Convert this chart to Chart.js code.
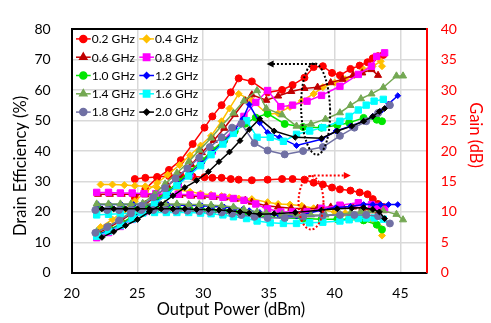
<!DOCTYPE html>
<html><head><meta charset="utf-8">
<script src="https://cdn.jsdelivr.net/npm/chart.js@4/dist/chart.umd.min.js"></script>
<style>html,body{margin:0;padding:0;background:#fff;}#wrap{width:491px;height:323px;position:relative;}</style>
</head><body><div id="wrap"><canvas id="c" width="491" height="323"></canvas></div>
<script>
// ---- data (Output power dBm, drain efficiency %, gain dB) ----
const freqLabels = ['0.2 GHz','0.4 GHz','0.6 GHz','0.8 GHz','1.0 GHz','1.2 GHz','1.4 GHz','1.6 GHz','1.8 GHz','2.0 GHz'];

const pwr02 = [24.8,25.6,26.5,27.4,28.3,29.2,30.1,30.7,31.4,32.1,32.7,33.7,34.9,36.0,36.8,37.7,38.4,39.1,39.8,40.4,41.2,41.9,42.5,42.9,43.3,43.7];
const eff02 = [24.7,27.5,31.2,33.8,37.0,42.3,47.7,51.4,55.1,59.3,63.9,62.9,59.3,60.1,61.7,64.1,67.6,67.9,65.7,64.9,67.0,68.1,69.2,70.5,71.2,71.6];
const gain02 = [15.4,15.6,15.75,15.9,15.9,15.8,15.7,15.6,15.6,15.4,15.3,15.2,15.3,15.4,15.4,15.3,14.8,14.5,14.0,13.7,13.5,13.2,12.9,12.1,11.3,10.8];

const pwr04 = [22.2,23.1,24.0,24.8,25.6,26.5,27.3,28.2,29.0,29.8,30.6,31.4,32.0,32.7,33.7,34.9,35.7,36.6,37.5,38.4,39.1,40.0,40.8,41.5,42.2,42.9,43.5,43.6];
const eff04 = [15.0,17.5,20.5,23.5,26.5,29.5,32.2,35.4,38.6,41.8,45.0,49.8,54.0,58.8,56.7,52.1,52.4,54.5,56.5,58.8,61.0,62.5,63.6,64.9,66.8,67.9,69.5,67.9];
const gain04 = [14.5,14.5,14.4,14.3,14.2,14.0,13.8,13.6,13.3,13.0,12.8,12.6,12.4,12.2,12.1,11.6,11.3,11.2,11.0,10.6,10.3,10.0,9.8,9.5,9.2,8.6,7.3,6.1];

const pwr06 = [22.0,22.9,23.8,24.7,25.6,26.5,27.3,28.2,29.1,29.9,30.8,31.6,32.4,33.2,33.7,34.8,35.7,36.7,37.7,38.7,39.7,40.6,41.4,42.1,42.8,43.3];
const eff06 = [13.0,15.0,17.3,19.8,22.5,25.5,28.5,32.0,35.5,39.5,43.5,47.5,52.0,56.5,58.5,56.7,58.1,59.6,60.6,61.0,62.5,63.6,64.9,65.7,66.8,64.9];
const gain06 = [12.9,12.9,12.9,12.9,12.8,12.8,12.8,12.7,12.6,12.5,12.4,12.3,12.1,11.9,11.6,11.0,10.8,10.6,10.5,10.6,10.8,10.9,10.8,10.6,10.2,9.6];

const pwr08 = [21.9,22.8,23.7,24.6,25.5,26.4,27.2,28.1,29.0,29.8,30.7,31.5,32.3,33.1,34.0,34.9,35.9,36.8,37.9,39.0,40.4,41.8,42.8,43.2,43.8];
const eff08 = [11.5,13.2,15.2,17.5,20.0,22.8,25.8,29.0,32.5,36.0,40.0,43.5,47.0,51.4,56.0,59.9,54.6,55.1,56.4,58.3,61.3,65.2,67.9,71.1,72.3];
const gain08 = [13.2,13.2,13.1,13.1,13.0,13.0,12.9,12.9,12.8,12.7,12.6,12.4,12.2,11.9,11.3,10.5,10.0,10.0,10.0,10.6,11.1,11.5,11.2,10.9,10.4];

const pwr10 = [22.0,22.9,23.8,24.6,25.5,26.4,27.3,28.1,29.0,29.9,30.7,31.6,32.4,33.2,34.0,34.9,36.2,37.6,39.0,40.2,41.1,42.2,43.2,43.6];
const eff10 = [12.5,14.2,16.2,18.5,21.0,23.8,26.8,30.0,33.3,36.8,40.3,43.5,46.5,49.0,51.0,52.3,48.9,47.9,47.7,48.5,49.3,50.9,50.3,49.8];
const gain10 = [10.6,10.6,10.6,10.6,10.6,10.5,10.5,10.4,10.3,10.2,10.1,10.0,9.8,9.6,9.4,9.2,9.0,8.9,8.8,8.8,8.8,8.6,7.9,7.1];

const pwr12 = [22.0,22.9,23.8,24.7,25.5,26.4,27.3,28.1,29.0,29.9,30.7,31.6,32.4,33.0,33.5,34.3,34.9,35.8,37.1,39.0,40.1,41.2,42.2,42.9,43.5,44.1,44.8];
const eff12 = [12.5,14.0,15.8,18.0,20.5,23.2,26.0,29.2,32.5,36.0,39.5,43.0,47.0,50.5,55.3,49.3,46.1,44.5,41.8,43.9,46.6,48.2,49.8,51.4,53.0,55.5,58.2];
const gain12 = [11.2,11.2,11.2,11.2,11.2,11.2,11.2,11.1,11.1,11.0,10.9,10.8,10.6,10.4,10.2,9.9,9.6,9.4,9.3,10.3,10.7,10.9,11.2,11.2,11.2,11.2,11.2];

const pwr14 = [21.9,22.8,23.7,24.5,25.4,26.3,27.1,28.0,28.9,29.7,30.6,31.4,32.3,33.1,34.1,34.8,36.0,37.1,38.2,39.3,40.4,41.2,42.0,42.8,43.7,44.7,45.2];
const eff14 = [13.5,15.3,17.5,20.0,22.8,25.8,29.2,32.8,36.5,40.3,44.3,48.3,52.5,56.5,59.9,54.0,51.9,48.2,48.9,50.5,52.6,55.0,57.2,58.8,60.9,64.7,64.7];
const gain14 = [11.3,11.3,11.3,11.3,11.3,11.3,11.3,11.3,11.2,11.2,11.1,11.0,10.8,10.4,10.0,9.8,9.6,9.5,9.5,9.5,9.6,9.8,10.0,10.2,10.2,9.6,8.7];

const pwr16 = [21.9,22.8,23.7,24.6,25.4,26.3,27.2,28.0,28.9,29.8,30.6,31.5,32.3,33.3,34.1,35.1,36.1,37.1,38.1,39.1,40.4,41.1,41.8,42.4,43.0,43.7];
const eff16 = [12.0,13.6,15.5,17.6,20.0,22.6,25.5,28.6,31.8,35.2,38.8,42.3,45.8,50.0,44.5,44.5,43.2,45.5,46.6,47.7,49.8,51.4,53.5,55.1,56.4,57.0];
const gain16 = [9.5,9.6,9.7,9.8,9.8,9.9,9.9,9.9,9.9,9.8,9.7,9.5,9.2,8.9,8.5,8.2,8.1,8.1,8.2,8.3,8.5,8.7,8.9,9.0,9.0,8.8];

const pwr18 = [21.8,22.7,23.6,24.5,25.3,26.2,27.1,27.9,28.8,29.7,30.5,31.4,32.2,32.9,33.9,34.9,36.2,37.6,39.1,40.4,41.5,42.4,43.3,44.2];
const eff18 = [13.1,15.0,17.2,19.5,22.0,24.8,27.8,31.0,34.3,37.8,41.3,44.5,47.7,49.0,42.6,40.2,38.9,40.0,41.3,45.0,47.7,49.8,52.5,55.1];
const gain18 = [10.3,10.3,10.3,10.3,10.3,10.3,10.3,10.2,10.2,10.1,10.0,9.9,9.7,9.5,9.2,9.0,9.0,9.2,9.4,9.5,9.5,9.5,9.3,8.1];

const pwr20 = [22.3,23.2,24.1,25.0,25.9,26.8,27.7,28.6,29.5,30.4,31.2,32.0,32.8,33.5,34.3,35.4,37.0,39.0,40.2,41.3,42.2,42.9,43.4,43.8];
const eff20 = [11.6,13.5,15.5,17.5,20.0,22.5,25.3,28.0,30.3,33.2,36.5,39.7,43.4,47.1,50.6,46.6,44.5,44.2,46.6,48.2,49.8,51.4,53.0,54.0];
const gain20 = [10.5,10.5,10.5,10.5,10.5,10.5,10.5,10.5,10.4,10.4,10.3,10.2,10.0,9.8,9.6,9.7,9.9,10.3,10.5,10.6,10.7,10.4,10.0,8.9];

const xTicks = [20,25,30,35,40,45];
const effTicks = [0,10,20,30,40,50,60,70,80];
const gainTicks = [0,5,10,15,20,25,30,35,40];

// annotation anchors (data units)
const effEllipse = {p:38.55, v:53.8, rp:1.1, rv:15.0};
const effArrow = {p0:38.5, p1:34.9, v:68.6};
const gainEllipse = {p:38.2, v:11.5, rp:0.95, rv:4.4};
const gainArrow = {p0:37.9, p1:41.15, v:16.0};

// ---- styles ----
const colors = ['#FF0000','#FFC000','#C00000','#FF00FF','#00E600','#0000FF','#74A853','#00FFFF','#7070A4','#000000'];
const markers = ['circle','rectRot','triangle','rect','circle','rectRot','triangle','rect','circle','rectRot'];
const radii = [3.5,3.5,4.1,4.5,3.5,2.9,4.1,4.5,3.5,2.9];

const series = [
  [pwr02,eff02,gain02],[pwr04,eff04,gain04],[pwr06,eff06,gain06],[pwr08,eff08,gain08],[pwr10,eff10,gain10],
  [pwr12,eff12,gain12],[pwr14,eff14,gain14],[pwr16,eff16,gain16],[pwr18,eff18,gain18],[pwr20,eff20,gain20]
];

const datasets = [];
series.forEach((s,i)=>{
  const style = {borderColor:colors[i], backgroundColor:colors[i], pointStyle:markers[i], pointRadius:radii[i],
    pointBorderWidth:1, borderWidth:1.5, showLine:true, tension:0, pointHoverRadius:radii[i]};
  datasets.push(Object.assign({label:freqLabels[i], yAxisID:'y', data:s[0].map((p,k)=>({x:p,y:s[1][k]}))}, style));
  datasets.push(Object.assign({label:freqLabels[i]+' gain', yAxisID:'y2', data:s[0].map((p,k)=>({x:p,y:s[2][k]}))}, style));
});
datasets.forEach((d,i)=>{ d.order = -i; });

const FONT = 'Lato, "Liberation Sans", sans-serif';

const legendPlugin = {
  id:'legendInside',
  afterDraw(chart){
    const ctx = chart.ctx, a = chart.chartArea;
    ctx.save();
    ctx.font = '12px ' + FONT;
    ctx.textBaseline = 'middle';
    ctx.textAlign = 'left';
    freqLabels.forEach((lab,i)=>{
      const col = i % 2, row = Math.floor(i/2);
      const y = a.top + 9.5 + row*18.3;
      const x0 = a.left + 4.3 + col*63.3;
      ctx.strokeStyle = colors[i]; ctx.lineWidth = 1.5; ctx.setLineDash([]);
      ctx.beginPath(); ctx.moveTo(x0,y); ctx.lineTo(x0+14.7,y); ctx.stroke();
      ctx.fillStyle = colors[i];
      Chart.helpers.drawPoint(ctx, {pointStyle:markers[i], radius:radii[i], borderWidth:1}, x0+7.3, y);
      ctx.fillStyle = '#000';
      ctx.fillText(lab, x0+15.8, y+0.5);
    });
    ctx.restore();
  }
};

const titlePlugin = {
  id:'axisTitles',
  afterDraw(chart){
    const ctx = chart.ctx;
    ctx.save();
    ctx.font = '16.5px ' + FONT;
    ctx.textAlign = 'center'; ctx.textBaseline = 'middle';
    ctx.fillStyle = '#000';
    ctx.fillText('Output Power (dBm)', 231, 310);
    ctx.save(); ctx.translate(21, 166); ctx.rotate(-Math.PI/2);
    ctx.fillText('Drain Efficiency (%)', 0, 0); ctx.restore();
    ctx.save(); ctx.translate(475, 135); ctx.rotate(Math.PI/2);
    ctx.fillStyle = '#FF0000'; ctx.fillText('Gain (dB)', 0, 0); ctx.restore();
    ctx.restore();
  }
};

const notePlugin = {
  id:'notes',
  afterDatasetsDraw(chart){
    const ctx = chart.ctx, xs = chart.scales.x, ys = chart.scales.y, gs = chart.scales.y2;
    ctx.save();
    ctx.lineWidth = 2; ctx.setLineDash([2,2]);
    // black ellipse
    let cx = xs.getPixelForValue(effEllipse.p), cy = ys.getPixelForValue(effEllipse.v);
    let rx = xs.getPixelForValue(effEllipse.p+effEllipse.rp)-cx, ry = cy-ys.getPixelForValue(effEllipse.v+effEllipse.rv);
    ctx.strokeStyle = '#000';
    ctx.beginPath(); ctx.ellipse(cx, cy, rx, ry, -0.03, 0, Math.PI*2); ctx.stroke();
    // black arrow
    let ay = ys.getPixelForValue(effArrow.v), ax0 = xs.getPixelForValue(effArrow.p0), ax1 = xs.getPixelForValue(effArrow.p1);
    ctx.beginPath(); ctx.moveTo(ax0, ay); ctx.lineTo(ax1+4, ay); ctx.stroke();
    ctx.setLineDash([]); ctx.fillStyle = '#000';
    ctx.beginPath(); ctx.moveTo(ax1-1, ay); ctx.lineTo(ax1+6, ay-3.5); ctx.lineTo(ax1+6, ay+3.5); ctx.closePath(); ctx.fill();
    // red ellipse
    ctx.setLineDash([2,2]); ctx.strokeStyle = '#FF0000';
    cx = xs.getPixelForValue(gainEllipse.p); cy = gs.getPixelForValue(gainEllipse.v);
    rx = xs.getPixelForValue(gainEllipse.p+gainEllipse.rp)-cx; ry = cy-gs.getPixelForValue(gainEllipse.v+gainEllipse.rv);
    ctx.beginPath(); ctx.ellipse(cx, cy, rx, ry, 0, 0, Math.PI*2); ctx.stroke();
    // red arrow
    ay = gs.getPixelForValue(gainArrow.v); ax0 = xs.getPixelForValue(gainArrow.p0); ax1 = xs.getPixelForValue(gainArrow.p1);
    ctx.beginPath(); ctx.moveTo(ax0-1, ay+8); ctx.quadraticCurveTo(ax0, ay, ax0+7, ay); ctx.lineTo(ax1-4, ay); ctx.stroke();
    ctx.setLineDash([]); ctx.fillStyle = '#FF0000';
    ctx.beginPath(); ctx.moveTo(ax1+1, ay); ctx.lineTo(ax1-6, ay-3.5); ctx.lineTo(ax1-6, ay+3.5); ctx.closePath(); ctx.fill();
    ctx.restore();
  }
};

new Chart(document.getElementById('c'), {
  type:'scatter',
  data:{datasets},
  options:{
    responsive:false, animation:false, devicePixelRatio:1,
    layout:{padding:{top:21.7, left:0, right:0, bottom:0}},
    plugins:{legend:{display:false}, tooltip:{enabled:false}},
    scales:{
      x:{type:'linear', min:20, max:47,
        afterBuildTicks:(s)=>{ s.ticks = xTicks.map(v=>({value:v})); },
        afterFit:(s)=>{ s.height = 50.3; },
        ticks:{font:{family:FONT, size:14}, color:'#000', padding:12},
        grid:{color:'#D9D9D9', lineWidth:1.5, drawTicks:false},
        border:{color:'#000', width:2}},
      y:{type:'linear', position:'left', min:0, max:80,
        afterBuildTicks:(s)=>{ s.ticks = effTicks.map(v=>({value:v})); },
        afterFit:(s)=>{ s.width = 71.7; },
        ticks:{font:{family:FONT, size:14}, color:'#000', padding:21},
        grid:{color:(c)=> c.tick && c.tick.value===80 ? '#000' : '#D9D9D9', lineWidth:(c)=> c.tick && c.tick.value===80 ? 2 : 1.5, drawTicks:false},
        border:{color:'#000', width:2}},
      y2:{type:'linear', position:'right', min:0, max:40,
        afterBuildTicks:(s)=>{ s.ticks = gainTicks.map(v=>({value:v})); },
        afterFit:(s)=>{ s.width = 64.3; },
        ticks:{font:{family:FONT, size:14}, color:'#FF0000', padding:14},
        grid:{display:false, drawTicks:false},
        border:{color:'#FF0000', width:2}}
    }
  },
  plugins:[notePlugin, legendPlugin, titlePlugin]
});
</script></body></html>
